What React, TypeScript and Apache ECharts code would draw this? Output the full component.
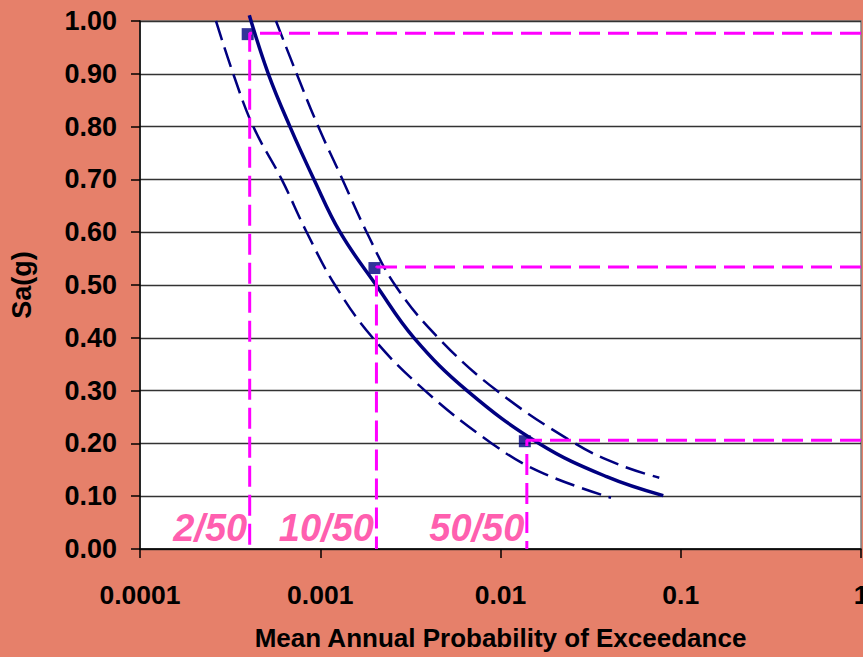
import React, { useEffect, useRef } from 'react';
import * as echarts from 'echarts';

// Mean annual probability of exceedance (x) vs Sa(g) (y)
const mainP = [0.000404, 0.000515, 0.000679, 0.000923, 0.001288, 0.00204, 0.00331, 0.00652, 0.01636, 0.0388, 0.08];
const mainSa = [1.011, 0.9, 0.8, 0.7, 0.6, 0.5, 0.4, 0.3, 0.2, 0.137, 0.101];

const upperP = [0.000568, 0.00074, 0.000975, 0.001328, 0.00181, 0.002598, 0.004516, 0.00953, 0.0259, 0.046, 0.076];
const upperSa = [1.0, 0.9, 0.8, 0.7, 0.6, 0.5, 0.4, 0.3, 0.2, 0.159, 0.135];

const lowerP = [0.000264, 0.000329, 0.000425, 0.000611, 0.000841, 0.001207, 0.001954, 0.003811, 0.00894, 0.01656, 0.04102];
const lowerSa = [1.0, 0.9, 0.8, 0.7, 0.6, 0.5, 0.4, 0.3, 0.2, 0.146, 0.097];

const hazardLabels = ['2/50', '10/50', '50/50'];
const hazardP = [0.000406, 0.00205, 0.014];
const hazardSa = [0.977, 0.534, 0.206];

const xTickValues = [0.0001, 0.001, 0.01, 0.1, 1];

export default function App() {
  const ref = useRef<HTMLDivElement>(null);
  useEffect(() => {
    const chart = echarts.init(ref.current as HTMLDivElement, null, { renderer: 'svg' });
    const font = 'Arial, "Liberation Sans", Helvetica, sans-serif';
    const navy = '#000080';
    const magenta = '#FF00FF';
    const pairs = (xs: number[], ys: number[]) => xs.map((x, i) => [x, ys[i]]);

    const guideSeries = hazardP.map((p, i) => ({
      type: 'line',
      data: [[1, hazardSa[i]], [p, hazardSa[i]], [p, 0]],
      symbol: 'none',
      silent: true,
      z: 6,
      lineStyle: { color: magenta, width: 3, type: [21, 8] },
    }));

    chart.setOption({
      animation: false,
      backgroundColor: '#E6806A',
      grid: {
        left: 140,
        top: 21,
        width: 721,
        height: 528,
        outerBoundsMode: 'none',
        containLabel: false,
        show: true,
        backgroundColor: '#FFFFFF',
        borderColor: '#808080',
        borderWidth: 1.5,
      },
      xAxis: {
        type: 'log',
        logBase: 10,
        min: xTickValues[0],
        max: xTickValues[xTickValues.length - 1],
        name: 'Mean Annual Probability of Exceedance',
        nameLocation: 'middle',
        nameGap: 76,
        nameTextStyle: { fontSize: 26, fontWeight: 'bold', color: '#000', fontFamily: font },
        axisLine: { show: true, lineStyle: { color: '#000', width: 1.5 } },
        axisTick: { show: true, length: 9, lineStyle: { color: '#000', width: 1.5 } },
        minorTick: { show: false },
        splitLine: { show: false },
        axisLabel: {
          margin: 32,
          fontSize: 26.5,
          fontWeight: 'bold',
          color: '#000',
          fontFamily: font,
          hideOverlap: false,
          formatter: (v: number) => {
            const e = Math.round(Math.log10(v));
            return e >= 0 ? String(Math.pow(10, e)) : Math.pow(10, e).toFixed(-e);
          },
        },
      },
      yAxis: {
        type: 'value',
        min: 0,
        max: 1,
        interval: 0.1,
        name: 'Sa(g)',
        nameLocation: 'middle',
        nameGap: 105,
        nameTextStyle: { fontSize: 27, fontWeight: 'bold', color: '#000', fontFamily: font },
        axisLine: { show: true, lineStyle: { color: '#000', width: 1.5 } },
        axisTick: { show: true, length: 9, lineStyle: { color: '#000', width: 1.5 } },
        splitLine: { show: true, lineStyle: { color: '#333', width: 1.3 } },
        axisLabel: {
          margin: 23,
          fontSize: 27,
          fontWeight: 'bold',
          color: '#000',
          fontFamily: font,
          formatter: (v: number) => v.toFixed(2),
        },
      },
      series: [
        {
          type: 'scatter',
          data: hazardP.map((p) => [p, 0]),
          symbolSize: 1,
          itemStyle: { color: 'rgba(0,0,0,0)' },
          z: 3,
          silent: true,
          label: {
            show: true,
            position: 'left',
            distance: 2,
            offset: [0, -21.5],
            formatter: (prm: any) => hazardLabels[prm.dataIndex],
            color: '#FF3399',
            fontSize: 38,
            fontStyle: 'italic',
            fontWeight: 'bold',
            fontFamily: font,
          },
        },
        {
          type: 'line',
          data: pairs(lowerP, lowerSa),
          smooth: 0.4,
          symbol: 'none',
          z: 4,
          lineStyle: { color: navy, width: 2.5, type: [20, 8] },
        },
        {
          type: 'line',
          data: pairs(upperP, upperSa),
          smooth: 0.4,
          symbol: 'none',
          z: 4,
          lineStyle: { color: navy, width: 2.5, type: [20, 8] },
        },
        {
          type: 'line',
          data: pairs(mainP, mainSa),
          smooth: 0.4,
          symbol: 'none',
          clip: false,
          z: 4,
          lineStyle: { color: navy, width: 3.5 },
        },
        {
          type: 'scatter',
          data: pairs(hazardP, hazardSa),
          symbol: 'rect',
          symbolSize: 12,
          symbolOffset: [-2, 1],
          z: 5,
          itemStyle: { color: navy },
        },
        ...guideSeries,
      ],
    });
    return () => chart.dispose();
  }, []);
  return (
    <div
      ref={ref}
      style={{ position: 'fixed', left: 0, top: 0, width: 863, height: 657 }}
    />
  );
}
